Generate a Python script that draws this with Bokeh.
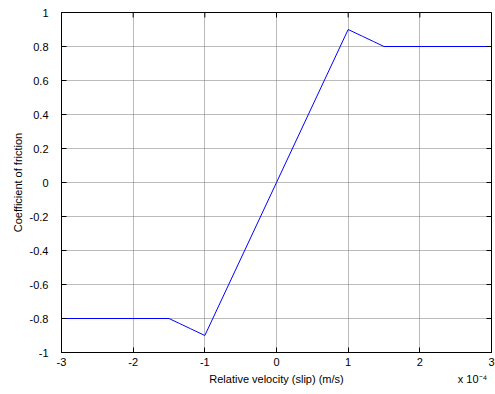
from bokeh.plotting import figure
from bokeh.models import Range1d, FixedTicker, LinearAxis
from bokeh.embed import file_html
from bokeh.resources import INLINE

slip = [-3, -1.5, -1.35, -1.2, -1.0, -0.5, 0.0, 0.5, 1.0, 1.2, 1.35, 1.5, 3]
mu = [-0.8, -0.8, -0.83, -0.86, -0.9, -0.45, 0.0, 0.45, 0.9, 0.86, 0.83, 0.8, 0.8]
xticks = [-3, -2, -1, 0, 1, 2, 3]
yticks = [-1, -0.8, -0.6, -0.4, -0.2, 0, 0.2, 0.4, 0.6, 0.8, 1]
xlabel = "Relative velocity (slip) (m/s)"
ylabel = "Coefficient of friction"
xscale_note = "x 10\u207b\u2074"

FONT = "Liberation Sans"
XMIN, XMAX, YMIN, YMAX = -3, 3, -1, 1
FRAME_W, FRAME_H = 430, 340
TICK = 5

p = figure(width=495, height=394, output_backend="svg", toolbar_location=None,
           x_range=Range1d(XMIN, XMAX), y_range=Range1d(YMIN, YMAX),
           min_border_left=61, min_border_right=4, min_border_top=12, min_border_bottom=42,
           background_fill_color="white", border_fill_color="white")

p.line(slip, mu, line_color="#0000ff", line_width=1)

def style(ax):
    ax.major_tick_in = TICK
    ax.major_tick_out = 0
    ax.minor_tick_in = 0
    ax.minor_tick_out = 0
    ax.axis_line_color = "black"
    ax.major_tick_line_color = "black"
    ax.major_label_text_font = FONT
    ax.major_label_text_font_size = "11px"
    ax.major_label_text_color = "black"
    ax.axis_label_text_font = FONT
    ax.axis_label_text_font_size = "11px"
    ax.axis_label_text_font_style = "normal"
    ax.axis_label_text_color = "black"

style(p.xaxis[0])
style(p.yaxis[0])
p.xaxis.ticker = FixedTicker(ticks=xticks)
p.yaxis.ticker = FixedTicker(ticks=yticks)
p.xaxis.major_label_overrides = {t: str(t) for t in xticks}
p.yaxis.major_label_overrides = {t: ("%g" % t) for t in yticks}
p.yaxis.axis_label = ylabel
p.xaxis.major_label_standoff = 5
p.yaxis.major_label_standoff = 13
p.yaxis.axis_label_standoff = 3

# second row under the x axis: the axis title (centred) and the MATLAB exponent note (right)
note_x = XMIN + (XMAX - XMIN) * 0.9558
ax2 = LinearAxis(ticker=FixedTicker(ticks=[(XMIN + XMAX) / 2, note_x]))
style(ax2)
ax2.axis_line_color = None
ax2.major_tick_in = 0
ax2.major_tick_line_color = None
ax2.major_label_standoff = 4
ax2.major_label_overrides = {(XMIN + XMAX) / 2: xlabel, note_x: xscale_note}
p.add_layout(ax2, "below")

# inward tick marks on the right and top edges (box on)
dx = TICK * (XMAX - XMIN) / FRAME_W
dy = TICK * (YMAX - YMIN) / FRAME_H
p.segment(x0=[XMAX] * len(yticks), y0=yticks, x1=[XMAX - dx] * len(yticks), y1=yticks,
          line_color="black", line_width=1)
p.segment(x0=xticks, y0=[YMAX] * len(xticks), x1=xticks, y1=[YMAX - dy] * len(xticks),
          line_color="black", line_width=1)

p.xgrid.ticker = FixedTicker(ticks=xticks)
p.ygrid.ticker = FixedTicker(ticks=yticks)
for g in (p.xgrid[0], p.ygrid[0]):
    g.grid_line_color = "#777777"
    g.grid_line_dash = "1 1"
    g.grid_line_width = 1

p.outline_line_color = "black"

open("out.html", "w").write(file_html(p, INLINE))
